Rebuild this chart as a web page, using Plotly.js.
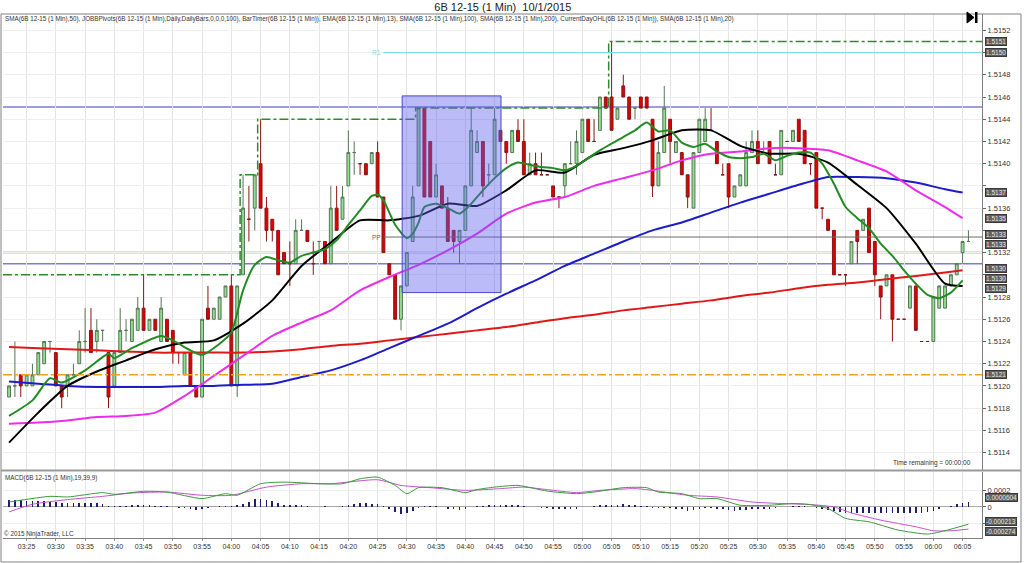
<!DOCTYPE html>
<html><head><meta charset="utf-8">
<script src="https://cdn.plot.ly/plotly-3.0.1.min.js"></script>
<style>html,body{margin:0;padding:0;background:#fff;}#chart{width:1024px;height:563px;}</style>
</head><body><div id="chart"></div>
<script>
// ---- data (6B 12-15, 1 Min, 10/1/2015) ----
const startClock = '03:22';           // time of first bar
const open = [1.5119,1.5120,1.5121,1.5120,1.5120,1.5121,1.5122,1.5124,1.5123,1.5120,
1.5120,1.5121,1.5122,1.5124,1.5125,1.5124,1.5125,1.5123,1.5120,1.5123,
1.5125,1.5124,1.5125,1.5127,1.5125,1.5126,1.5124,1.5126,1.5125,1.5123,
1.5121,1.5123,1.5120,1.5119,1.5127,1.5126,1.5126,1.5128,1.5129,1.5120,
1.5130,1.5135,1.5136,1.5140,1.5136,1.5135,1.5134,1.5132,1.5131,1.5131,
1.5134,1.5134,1.5131,1.5133,1.5133,1.5131,1.5136,1.5135,1.5138,1.5141,
1.5140,1.5140,1.5140,1.5141,1.5137,1.5131,1.5130,1.5126,1.5129,1.5133,
1.5138,1.5145,1.5142,1.5137,1.5138,1.5136,1.5134,1.5133,1.5134,1.5138,
1.5141,1.5142,1.5139,1.5139,1.5143,1.5142,1.5141,1.5143,1.5142,1.5139,
1.5140,1.5139,1.5139,1.5138,1.5137,1.5138,1.5140,1.5140,1.5141,1.5144,
1.5142,1.5143,1.5146,1.5146,1.5144,1.5147,1.5146,1.5145,1.5146,1.5146,
1.5144,1.5138,1.5141,1.5144,1.5141,1.5141,1.5139,1.5136,1.5141,1.5142,
1.5143,1.5142,1.5139,1.5140,1.5137,1.5138,1.5138,1.5141,1.5142,1.5141,
1.5142,1.5139,1.5139,1.5142,1.5142,1.5144,1.5143,1.5140,1.5141,1.5136,
1.5135,1.5134,1.5130,1.5130,1.5131,1.5134,1.5134,1.5136,1.5133,1.5129,
1.5129,1.5130,1.5126,1.5126,1.5127,1.5129,1.5124,1.5124,1.5124,1.5127,
1.5127,1.5129,1.5130,1.5132,1.5133];
const high = [1.5120,1.5124,1.5121,1.5121,1.5122,1.5123,1.5124,1.5124,1.5123,1.5120,
1.5121,1.5122,1.5125,1.5127,1.5127,1.5126,1.5125,1.5123,1.5123,1.5127,
1.5126,1.5126,1.5128,1.5130,1.5126,1.5126,1.5128,1.5126,1.5125,1.5123,
1.5123,1.5123,1.5120,1.5126,1.5129,1.5127,1.5128,1.5129,1.5130,1.5129,
1.5139,1.5138,1.5139,1.5144,1.5137,1.5135,1.5134,1.5132,1.5133,1.5135,
1.5135,1.5134,1.5133,1.5133,1.5133,1.5138,1.5138,1.5138,1.5143,1.5142,
1.5140,1.5140,1.5141,1.5142,1.5137,1.5131,1.5130,1.5129,1.5132,1.5138,
1.5145,1.5145,1.5142,1.5140,1.5138,1.5137,1.5134,1.5134,1.5138,1.5145,
1.5143,1.5142,1.5140,1.5145,1.5143,1.5142,1.5143,1.5144,1.5144,1.5141,
1.5141,1.5141,1.5139,1.5138,1.5137,1.5140,1.5142,1.5143,1.5144,1.5144,
1.5144,1.5146,1.5146,1.5151,1.5145,1.5148,1.5146,1.5145,1.5146,1.5146,
1.5144,1.5142,1.5147,1.5144,1.5142,1.5141,1.5139,1.5141,1.5144,1.5145,
1.5145,1.5142,1.5140,1.5140,1.5138,1.5139,1.5142,1.5143,1.5143,1.5142,
1.5142,1.5140,1.5143,1.5142,1.5143,1.5144,1.5143,1.5140,1.5141,1.5136,
1.5135,1.5134,1.5130,1.5130,1.5133,1.5134,1.5135,1.5136,1.5133,1.5129,
1.5130,1.5130,1.5126,1.5126,1.5129,1.5129,1.5124,1.5124,1.5128,1.5129,
1.5129,1.5130,1.5131,1.5133,1.5134];
const low = [1.5119,1.5119,1.5119,1.5120,1.5120,1.5121,1.5122,1.5123,1.5120,1.5118,
1.5119,1.5121,1.5122,1.5123,1.5123,1.5123,1.5124,1.5118,1.5120,1.5123,
1.5124,1.5124,1.5125,1.5125,1.5125,1.5125,1.5124,1.5124,1.5122,1.5122,
1.5121,1.5120,1.5119,1.5119,1.5126,1.5126,1.5126,1.5128,1.5120,1.5119,
1.5130,1.5133,1.5134,1.5136,1.5133,1.5133,1.5130,1.5131,1.5129,1.5131,
1.5134,1.5133,1.5130,1.5132,1.5131,1.5131,1.5134,1.5135,1.5138,1.5139,
1.5139,1.5139,1.5140,1.5137,1.5132,1.5130,1.5126,1.5125,1.5129,1.5133,
1.5138,1.5137,1.5137,1.5137,1.5136,1.5133,1.5132,1.5131,1.5134,1.5138,
1.5141,1.5137,1.5138,1.5139,1.5142,1.5140,1.5141,1.5142,1.5139,1.5139,
1.5139,1.5139,1.5139,1.5137,1.5136,1.5137,1.5140,1.5139,1.5141,1.5142,
1.5142,1.5143,1.5145,1.5143,1.5144,1.5146,1.5144,1.5144,1.5145,1.5145,
1.5137,1.5138,1.5141,1.5140,1.5141,1.5139,1.5136,1.5136,1.5141,1.5142,
1.5143,1.5140,1.5139,1.5136,1.5137,1.5138,1.5138,1.5141,1.5140,1.5141,
1.5140,1.5139,1.5139,1.5142,1.5142,1.5142,1.5140,1.5139,1.5136,1.5135,
1.5134,1.5130,1.5130,1.5129,1.5131,1.5131,1.5134,1.5132,1.5129,1.5126,
1.5129,1.5124,1.5126,1.5126,1.5127,1.5125,1.5124,1.5124,1.5124,1.5127,
1.5127,1.5129,1.5130,1.5131,1.5133];
const close = [1.5120,1.5120,1.5120,1.5121,1.5121,1.5123,1.5124,1.5124,1.5120,1.5119,
1.5121,1.5121,1.5124,1.5124,1.5123,1.5125,1.5125,1.5119,1.5123,1.5125,
1.5125,1.5126,1.5127,1.5125,1.5126,1.5125,1.5127,1.5124,1.5123,1.5123,
1.5123,1.5120,1.5119,1.5126,1.5126,1.5127,1.5128,1.5129,1.5120,1.5129,
1.5136,1.5135,1.5139,1.5136,1.5134,1.5134,1.5130,1.5131,1.5131,1.5134,
1.5134,1.5133,1.5131,1.5133,1.5131,1.5136,1.5134,1.5137,1.5141,1.5141,
1.5140,1.5139,1.5141,1.5137,1.5132,1.5130,1.5126,1.5129,1.5132,1.5137,
1.5145,1.5137,1.5137,1.5139,1.5136,1.5133,1.5133,1.5134,1.5138,1.5143,
1.5142,1.5138,1.5139,1.5144,1.5142,1.5141,1.5143,1.5142,1.5139,1.5140,
1.5139,1.5139,1.5139,1.5137,1.5137,1.5140,1.5140,1.5142,1.5144,1.5142,
1.5142,1.5146,1.5145,1.5143,1.5145,1.5146,1.5144,1.5145,1.5145,1.5145,
1.5138,1.5141,1.5145,1.5142,1.5142,1.5139,1.5137,1.5141,1.5144,1.5144,
1.5143,1.5140,1.5139,1.5137,1.5138,1.5139,1.5141,1.5142,1.5140,1.5141,
1.5140,1.5139,1.5143,1.5142,1.5143,1.5142,1.5140,1.5140,1.5136,1.5136,
1.5134,1.5130,1.5130,1.5130,1.5133,1.5133,1.5135,1.5132,1.5130,1.5128,
1.5130,1.5126,1.5126,1.5126,1.5129,1.5125,1.5124,1.5124,1.5128,1.5129,
1.5129,1.5130,1.5131,1.5133,1.5133];

// moving averages, read every 5 bars
const smaIdx = [0,5,10,15,20,25,30,35,40,45,50,55,60,65,70,75,80,85,90,95,100,105,110,115,120,125,130,135,140,145,150,155,160,163];
const sma20 = [1.51149,1.51176,1.51200,1.51213,1.51223,1.51233,1.51239,1.51241,1.51256,1.51277,1.51308,1.51329,1.51349,1.51349,1.51353,1.51364,1.51362,1.51376,1.51394,1.51392,1.51408,1.51414,1.51421,1.51430,1.51430,1.51416,1.51409,1.51409,1.51401,1.51381,1.51360,1.51328,1.51292,1.51290];
const sma50 = [1.51166,1.51167,1.51169,1.51172,1.51173,1.51176,1.51191,1.51209,1.51227,1.51245,1.51257,1.51268,1.51286,1.51298,1.51309,1.51322,1.51337,1.51355,1.51365,1.51370,1.51380,1.51387,1.51394,1.51403,1.51409,1.51411,1.51414,1.51414,1.51412,1.51403,1.51393,1.51376,1.51361,1.51351];
const sma100 = [1.51204,1.51202,1.51200,1.51199,1.51199,1.51199,1.51200,1.51200,1.51201,1.51202,1.51208,1.51214,1.51223,1.51234,1.51245,1.51256,1.51270,1.51283,1.51295,1.51308,1.51319,1.51330,1.51340,1.51347,1.51356,1.51365,1.51373,1.51381,1.51388,1.51388,1.51387,1.51383,1.51377,1.51374];
const sma200 = [1.51235,1.51234,1.51233,1.51232,1.51231,1.51230,1.51230,1.51230,1.51230,1.51231,1.51233,1.51236,1.51238,1.51241,1.51244,1.51247,1.51250,1.51253,1.51257,1.51261,1.51264,1.51268,1.51271,1.51274,1.51277,1.51281,1.51284,1.51288,1.51291,1.51293,1.51296,1.51299,1.51302,1.51304];
const emaIdx = [0,4,7,9,13,17,18,21,26,28,31,33,36,38,40,42,44,46,48,50,52,54,56,58,60,62,63,64,66,68,69,70,71,73,75,77,79,81,83,85,87,89,91,93,95,97,99,101,103,105,107,109,111,113,115,117,119,121,123,125,127,129,131,133,135,137,139,141,143,145,147,149,151,153,155,157,159,161,163];
const ema13 = [1.51173,1.51187,1.51207,1.51203,1.51214,1.51229,1.51225,1.51234,1.51245,1.51241,1.51232,1.51228,1.51238,1.51248,1.51286,1.51309,1.51316,1.51313,1.51311,1.51317,1.51320,1.51323,1.51331,1.51345,1.51358,1.51371,1.51372,1.51367,1.51345,1.51333,1.51337,1.51347,1.51361,1.51364,1.51360,1.51355,1.51364,1.51376,1.51387,1.51396,1.51401,1.51399,1.51397,1.51396,1.51394,1.51398,1.51405,1.51412,1.51418,1.51424,1.51430,1.51437,1.51429,1.51430,1.51419,1.51415,1.51418,1.51411,1.51406,1.51405,1.51406,1.51409,1.51403,1.51407,1.51410,1.51410,1.51400,1.51382,1.51361,1.51351,1.51342,1.51328,1.51317,1.51304,1.51292,1.51282,1.51279,1.51284,1.51295];

// CurrentDayOHL and pivots
const dayOpen = 1.5121;
const priorDayHigh = 1.5130;
const dayHighIdx = [40, 43, 70, 103];
const dayHighVals = [1.5139, 1.5144, 1.5145, 1.5151];
const pivotR1 = 1.5150;
const pivotPP = 1.51334;
const pivotStartIdx = 64;
const userLines = [1.51451, 1.51320, 1.51310];
const boxIdx = [67.2, 84.1];
const boxPrice = [1.51284, 1.51461];

// MACD(19,39,9)
const macdIdx = [0,7,10,16,18,23,27,33,37,39,43,47,53,57,60,63,66,68,70,74,78,80,83,87,92,97,100,105,109,111,115,118,121,125,130,134,137,140,143,147,152,157,160,164];
const macdLine = [0.000061,0.000131,0.000123,0.000177,0.000156,0.000193,0.000184,0.000103,0.000164,0.000144,0.000287,0.000307,0.000287,0.000287,0.000348,0.000368,0.000266,0.000164,0.000238,0.000238,0.000177,0.000214,0.000245,0.000266,0.000196,0.000164,0.000184,0.000238,0.000238,0.000184,0.000164,0.000103,0.000103,0.000021,0.000021,0.000042,0.000029,-0.000020,-0.000142,-0.000184,-0.000286,-0.000335,-0.000294,-0.000213];
const sigIdx = [0,4,10,16,21,27,33,38,44,50,55,63,67,72,78,84,88,92,97,101,107,109,112,116,121,127,132,137,141,144,149,155,158,161,164];
const macdSignal = [-0.000061,0.000033,0.000091,0.000131,0.000172,0.000184,0.000144,0.000144,0.000245,0.000287,0.000287,0.000336,0.000266,0.000238,0.000205,0.000226,0.000245,0.000214,0.000177,0.000205,0.000226,0.000214,0.000184,0.000144,0.000123,0.000061,0.000042,0.000029,0,-0.000074,-0.000163,-0.000245,-0.000294,-0.000294,-0.000274];
const macdHist = [0.000080,0.000080,0.000080,0.000074,0.000074,0.000074,0.000074,0.000067,0.000061,0.000049,
0.000049,0.000043,0.000043,0.000043,0.000043,0.000043,0.000037,0.000012,0.000006,0.000006,
0.000012,0.000018,0.000018,0.000018,0.000018,0.000012,0.000012,0.000006,0,-0.000012,
-0.000018,-0.000031,-0.000043,-0.000025,-0.000012,-0.000006,0.000006,0.000012,0.000012,0.000025,
0.000037,0.000061,0.000098,0.000098,0.000086,0.000074,0.000049,0.000025,0.000025,0.000018,
0.000018,0.000012,0,0,0.000012,0,0,0.000006,0.000025,0.000037,
0.000043,0.000043,0.000037,0.000031,0.000012,-0.000025,-0.000061,-0.000086,-0.000074,-0.000055,
-0.000012,0.000006,0.000006,0.000006,-0.000006,-0.000025,-0.000031,-0.000037,-0.000025,0,
0.000012,0.000012,0.000018,0.000025,0.000025,0.000025,0.000025,0.000018,0.000006,0,
0,-0.000012,-0.000018,-0.000025,-0.000031,-0.000025,-0.000025,-0.000025,0,0,
0.000006,0.000018,0.000025,0.000025,0.000025,0.000037,0.000025,0.000018,0.000012,0.000006,
-0.000012,-0.000012,-0.000012,-0.000018,-0.000025,-0.000031,-0.000049,-0.000037,-0.000025,-0.000018,
-0.000018,-0.000025,-0.000031,-0.000043,-0.000049,-0.000043,-0.000037,-0.000031,-0.000025,-0.000025,
-0.000025,-0.000018,-0.000006,0,0.000006,0.000012,0.000006,0,-0.000012,-0.000025,
-0.000037,-0.000055,-0.000067,-0.000080,-0.000080,-0.000074,-0.000074,-0.000074,-0.000074,-0.000074,
-0.000074,-0.000074,-0.000074,-0.000074,-0.000074,-0.000074,-0.000074,-0.000067,-0.000055,-0.000031,
-0.000006,0.000012,0.000037,0.000049,0.0000604];

const priceTicks = [1.5114,1.5116,1.5118,1.5120,1.5122,1.5124,1.5126,1.5128,1.5130,1.5132,1.5134,1.5136,1.5138,1.5140,1.5142,1.5144,1.5146,1.5148,1.5150,1.5152];
const indicatorText = 'SMA(6B 12-15 (1 Min),50), JOBBPivots(6B 12-15 (1 Min),Daily,DailyBars,0,0,0,100), BarTimer(6B 12-15 (1 Min)), EMA(6B 12-15 (1 Min),13), SMA(6B 12-15 (1 Min),100), SMA(6B 12-15 (1 Min),200), CurrentDayOHL(6B 12-15 (1 Min)), SMA(6B 12-15 (1 Min),20)';

// ---- helpers ----
const pad = n => String(n).padStart(2, '0');
const baseSec = (+startClock.split(':')[0]) * 3600 + (+startClock.split(':')[1]) * 60;
function tAt(i) {
  const s = baseSec + Math.round(i * 60);
  return '2015-10-01 ' + pad(Math.floor(s / 3600)) + ':' + pad(Math.floor((s % 3600) / 60)) + ':' + pad(s % 60);
}
const times = open.map((_, i) => tAt(i));
const leftIdx = -1.026, rightIdx = 166.32;
const last = a => a[a.length - 1];
const yRange = [1.511239, 1.515347], y2Range = [-0.000384, 0.000438];
const mainTop = 14, mainBot = 470.5, macdTop = 471.5, macdBot = 538;
const pixMain = v => mainTop + (yRange[1] - v) / (yRange[1] - yRange[0]) * (mainBot - mainTop);
const pixMacd = v => macdTop + (y2Range[1] - v) / (y2Range[1] - y2Range[0]) * (macdBot - macdTop);

function line(idx, vals, color, width, yaxis) {
  return { type: 'scatter', mode: 'lines', x: idx.map(tAt), y: vals, xaxis: 'x', yaxis: yaxis || 'y',
    line: { color: color, width: width, shape: 'spline', smoothing: 0.6 }, hoverinfo: 'skip' };
}

// day-high step line
const dhX = [tAt(leftIdx)], dhY = [priorDayHigh];
dayHighIdx.forEach((k, j) => { dhX.push(tAt(k - 0.5)); dhY.push(dayHighVals[j]); });
dhX.push(tAt(rightIdx)); dhY.push(last(dayHighVals));

const traces = [
  { type: 'candlestick', x: times, open: open, high: high, low: low, close: close, xaxis: 'x', yaxis: 'y',
    increasing: { line: { color: '#587558', width: 1 }, fillcolor: '#92df92' },
    decreasing: { line: { color: '#8a1515', width: 1 }, fillcolor: '#e00000' },
    whiskerwidth: 0, hoverinfo: 'skip' },
  { type: 'scatter', mode: 'lines', x: dhX, y: dhY, line: { color: '#2f8a2f', width: 1.5, dash: 'dashdot', shape: 'hv' }, hoverinfo: 'skip' },
  { type: 'scatter', mode: 'lines', x: [tAt(pivotStartIdx), tAt(rightIdx)], y: [pivotR1, pivotR1], line: { color: '#7ddce6', width: 1.2 }, hoverinfo: 'skip' },
  { type: 'scatter', mode: 'lines', x: [tAt(pivotStartIdx), tAt(rightIdx)], y: [pivotPP, pivotPP], line: { color: '#6a6a6a', width: 1 }, hoverinfo: 'skip' },
  line(smaIdx, sma200, '#e01818', 2),
  line(smaIdx, sma100, '#1c1cc8', 2),
  line(smaIdx, sma50, '#ee2cee', 2),
  line(smaIdx, sma20, '#000000', 2),
  line(emaIdx, ema13, '#238b23', 2),
  { type: 'bar', x: times, y: macdHist, xaxis: 'x', yaxis: 'y2', width: 17000, marker: { color: '#1e1e6a', line: { width: 0 } }, hoverinfo: 'skip' },
  line(sigIdx, macdSignal, '#c452cc', 1, 'y2'),
  line(macdIdx, macdLine, '#3c9a3c', 1, 'y2')
];

// paper coords: plot area x 3..982, y 14..538
const PX = px => (px - 3) / 979, PY = py => (538 - py) / 524;

const shapes = [];
userLines.forEach(v => shapes.push({ type: 'line', xref: 'paper', x0: 0, x1: 1, yref: 'y', y0: v, y1: v, line: { color: '#7c7cd0', width: 1.5 }, layer: 'below' }));
shapes.push({ type: 'line', xref: 'paper', x0: 0, x1: 1, yref: 'y', y0: dayOpen, y1: dayOpen, line: { color: '#f2a31c', width: 1.5, dash: 'dashdot' } });
shapes.push({ type: 'rect', xref: 'x', yref: 'y', x0: tAt(boxIdx[0]), x1: tAt(boxIdx[1]), y0: boxPrice[0], y1: boxPrice[1],
  fillcolor: 'rgba(92,92,238,0.42)', line: { color: '#4848c8', width: 1 }, layer: 'above' });
shapes.push({ type: 'rect', xref: 'paper', yref: 'paper', x0: PX(1), x1: PX(1021), y0: PY(562), y1: PY(14), line: { color: '#808080', width: 1 }, fillcolor: 'rgba(0,0,0,0)' });
shapes.push({ type: 'line', xref: 'paper', yref: 'paper', x0: PX(1), x1: PX(1021), y0: PY(470.5), y1: PY(470.5), line: { color: '#9a9a9a', width: 2 } });
shapes.push({ type: 'path', xref: 'paper', yref: 'paper',
  path: 'M ' + PX(967) + ' ' + PY(12) + ' L ' + PX(967) + ' ' + PY(23) + ' L ' + PX(974) + ' ' + PY(17.5) + ' Z',
  fillcolor: '#000', line: { color: '#000', width: 1 } });
shapes.push({ type: 'rect', xref: 'paper', yref: 'paper', x0: PX(975), x1: PX(977.5), y0: PY(23), y1: PY(12), fillcolor: '#000', line: { width: 0 } });

// right-axis value flags (last values), spread apart so they do not overlap
const FLAG_GAP = 10;
function spread(items) {
  items.sort((a, b) => a.px - b.px);
  items.forEach(it => it.pos = it.px);
  for (let iter = 0; iter < 30; iter++) {
    for (let k = 1; k < items.length; k++) {
      const d = items[k].pos - items[k - 1].pos;
      if (d < FLAG_GAP) { const m = (FLAG_GAP - d) / 2; items[k - 1].pos -= m; items[k].pos += m; }
    }
  }
  return items;
}
const mainFlags = spread([
  { v: last(dayHighVals), t: last(dayHighVals).toFixed(4) },
  { v: pivotR1, t: pivotR1.toFixed(4) },
  { v: last(sma100), t: last(sma100).toFixed(4) },
  { v: last(sma50), t: last(sma50).toFixed(4) },
  { v: pivotPP, t: pivotPP.toFixed(4) },
  { v: last(close), t: last(close).toFixed(4) },
  { v: last(sma200), t: last(sma200).toFixed(4) },
  { v: last(ema13), t: last(ema13).toFixed(4) },
  { v: last(sma20), t: last(sma20).toFixed(4) },
  { v: dayOpen, t: dayOpen.toFixed(4) }
].map(f => Object.assign(f, { px: pixMain(f.v) })));
const macdFlags = spread([
  { v: last(macdHist), t: last(macdHist).toFixed(7) },
  { v: last(macdLine), t: last(macdLine).toFixed(6) },
  { v: last(macdSignal), t: last(macdSignal).toFixed(6) }
].map(f => Object.assign(f, { px: pixMacd(f.v) })));
// keep the "0" tick label clear of the histogram flag
macdFlags.forEach(f => { const z = pixMacd(0); if (Math.abs(f.pos - z) < 9) f.pos = f.pos < z ? z - 9 : z + 9; });
// keep bottom flags inside the panel
(function () { let lim = macdBot - 4; for (let k = macdFlags.length - 1; k >= 0; k--) { if (macdFlags[k].pos > lim) macdFlags[k].pos = lim; lim = macdFlags[k].pos - FLAG_GAP; } })();

function flagAnn(yref, f) {
  return { xref: 'paper', x: PX(985), xanchor: 'left', yref: yref, y: f.v, yanchor: 'middle', yshift: f.px - f.pos,
    text: f.t, showarrow: false, bgcolor: '#5e5e5e', bordercolor: '#3a3a3a', borderwidth: 1, borderpad: 0,
    font: { size: 6.5, color: '#e6e6e6' } };
}

// price tick labels that sit under a flag are hidden (as in the reference)
const priceTickText = priceTicks.map(v => mainFlags.some(f => Math.abs(f.pos - pixMain(v)) < 8) ? '' : v.toFixed(4));

const annotations = [
  { xref: 'paper', yref: 'paper', x: PX(3), y: PY(19), xanchor: 'left', yanchor: 'middle', text: indicatorText, showarrow: false, font: { size: 6.3, color: '#333' } },
  { xref: 'paper', yref: 'paper', x: PX(973), y: PY(463), xanchor: 'right', yanchor: 'middle', text: 'Time remaining = 00:00:00', showarrow: false, font: { size: 6.5, color: '#333' } },
  { xref: 'paper', yref: 'paper', x: PX(3), y: PY(478), xanchor: 'left', yanchor: 'middle', text: 'MACD(6B 12-15 (1 Min),19,39,9)', showarrow: false, font: { size: 6.3, color: '#333' } },
  { xref: 'paper', yref: 'paper', x: PX(2), y: PY(534), xanchor: 'left', yanchor: 'middle', text: '\u00a9 2015 NinjaTrader, LLC', showarrow: false, font: { size: 6.3, color: '#333' } },
  { xref: 'x', yref: 'y', x: tAt(pivotStartIdx), y: pivotR1, xanchor: 'right', yanchor: 'middle', text: 'R1', showarrow: false, font: { size: 6.5, color: '#7ddce6' } },
  { xref: 'x', yref: 'y', x: tAt(pivotStartIdx), y: pivotPP, xanchor: 'right', yanchor: 'middle', text: 'PP', showarrow: false, font: { size: 6.5, color: '#666' } }
].concat(mainFlags.map(f => flagAnn('y', f))).concat(macdFlags.map(f => flagAnn('y2', f)));

const layout = {
  width: 1024, height: 563,
  margin: { l: 3, r: 42, t: 14, b: 25 },
  paper_bgcolor: '#ffffff', plot_bgcolor: '#ffffff',
  showlegend: false,
  font: { family: 'Liberation Sans, Arial, sans-serif', size: 7, color: '#333' },
  title: { text: '6B 12-15 (1 Min)\u00a0\u00a010/1/2015', xref: 'container', yref: 'container', x: 0.491, y: 0.9876,
    xanchor: 'center', yanchor: 'middle', font: { size: 11, color: '#222' } },
  xaxis: { type: 'date', range: [tAt(leftIdx), tAt(rightIdx)], anchor: 'y2', tickformat: '%H:%M', dtick: 300000,
    tick0: '2015-10-01 03:25:00', showgrid: true, gridcolor: '#e4e4e4', ticks: 'outside', ticklen: 2, tickcolor: '#999',
    showline: true, linecolor: '#808080', zeroline: false, rangeslider: { visible: false }, tickfont: { size: 7, color: '#333' } },
  yaxis: { domain: [PY(mainBot), 1], side: 'right', anchor: 'x', range: yRange, tickvals: priceTicks, ticktext: priceTickText,
    ticks: 'outside', ticklen: 3, tickcolor: '#666', showgrid: true, gridcolor: '#eeeeee',
    showline: true, linecolor: '#808080', zeroline: false, tickfont: { size: 7.5, color: '#333' } },
  yaxis2: { domain: [0, PY(macdTop)], side: 'right', anchor: 'x', range: y2Range,
    tickvals: [-0.0002, 0, 0.0002], ticktext: ['', '0', '0.0002'], ticks: 'outside', ticklen: 3, tickcolor: '#666',
    showgrid: true, gridcolor: '#eeeeee', zeroline: true, zerolinecolor: '#a8a8a8', zerolinewidth: 1,
    showline: true, linecolor: '#808080', tickfont: { size: 7.5, color: '#333' } },
  bargap: 0,
  shapes: shapes,
  annotations: annotations
};

Plotly.newPlot('chart', traces, layout, { displayModeBar: false, staticPlot: true });
</script>
</body></html>
